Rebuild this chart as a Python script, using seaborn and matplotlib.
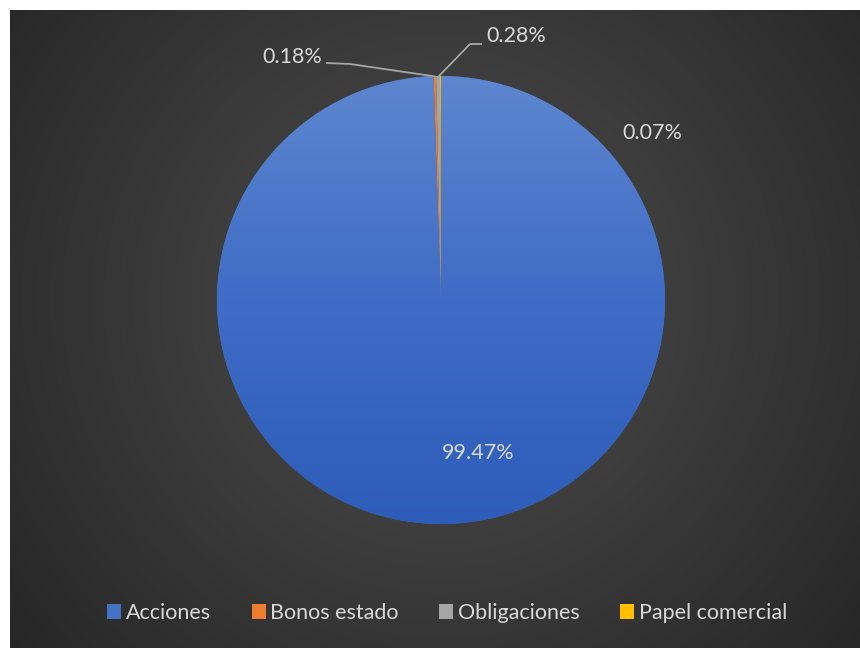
import numpy as np
import matplotlib
matplotlib.use("Agg")
import matplotlib.pyplot as plt
from matplotlib.patches import Patch
from matplotlib.colors import LinearSegmentedColormap
import seaborn as sns

sns.set_theme(style="white")
plt.rcParams["font.family"] = ["Lato", "DejaVu Sans"]

# Portfolio composition
categories = ["Acciones", "Bonos estado", "Obligaciones", "Papel comercial"]
shares = [99.47, 0.18, 0.28, 0.07]
labels = ["99.47%", "0.18%", "0.28%", "0.07%"]
colors = ["#4472C4", "#ED7D31", "#A5A5A5", "#FFC000"]

W, H = 860, 648
fig = plt.figure(figsize=(W / 100, H / 100), dpi=100, facecolor="white")

# Dark radial-gradient backdrop
bg = fig.add_axes([10 / W, 0, 850 / W, 638 / H])
bg.set_axis_off()
yy, xx = np.mgrid[0:638, 0:850]
cx, cy = 431, 290
r = np.sqrt((xx - cx) ** 2 + (yy - cy) ** 2) / 560.0
bg_cmap = LinearSegmentedColormap.from_list("bg", ["#4e4e4e", "#3a3a3a", "#262626"])
bg.imshow(np.clip(r, 0, 1), cmap=bg_cmap, vmin=0, vmax=1, aspect="auto",
          interpolation="bilinear")

# Pie
pc_x, pc_y, rad = 441, 300, 224
ax = fig.add_axes([(pc_x - rad) / W, (H - pc_y - rad) / H, 2 * rad / W, 2 * rad / H])
ax.set_axis_off()
wedges, _ = ax.pie(shares, colors=colors, startangle=90, counterclock=False,
                   radius=1.0, wedgeprops=dict(linewidth=0))
ax.set_xlim(-1, 1)
ax.set_ylim(-1, 1)
ax.set_aspect("equal")

# Vertical shading on the main wedge
grad = np.linspace(0, 1, 256).reshape(-1, 1)
blue_cmap = LinearSegmentedColormap.from_list("blue", ["#2c5db9", "#3f6cc6", "#5e86cf"])
im = ax.imshow(grad, cmap=blue_cmap, extent=[-1, 1, -1, 1], origin="lower",
               aspect="auto", zorder=wedges[0].get_zorder() + 0.1)
im.set_clip_path(wedges[0])


def to_ax(px, py):
    return ((px - pc_x) / rad, (pc_y - py) / rad)


txt = dict(color="#d9d9d9", fontsize=15.5, ha="center", va="center")
pos = {
    "99.47%": (478, 453),
    "0.18%": (292, 57),
    "0.28%": (516, 36),
    "0.07%": (652, 133),
}
for lab in labels:
    x, y = to_ax(*pos[lab])
    ax.text(x, y, lab, **txt)

# Leader lines for the thin slices
lead = dict(color="#a6a6a6", lw=1.3, solid_capstyle="butt", clip_on=False)
p = [to_ax(326, 63), to_ax(350, 64), to_ax(435.5, 76.5)]
ax.plot([q[0] for q in p], [q[1] for q in p], **lead)
p = [to_ax(438.5, 76.5), to_ax(470, 44), to_ax(482, 44)]
ax.plot([q[0] for q in p], [q[1] for q in p], **lead)

# Legend
handles = [Patch(facecolor=c, edgecolor="none") for c in colors]
leg = fig.legend(handles, categories, loc="center", bbox_to_anchor=(447 / W, 1 - 613 / H),
                 ncol=4, frameon=False, fontsize=15.5, labelcolor="#d9d9d9",
                 handlelength=0.65, handleheight=0.65, handletextpad=0.2,
                 columnspacing=1.9)

fig.savefig("out.png", dpi=100, facecolor="white")
